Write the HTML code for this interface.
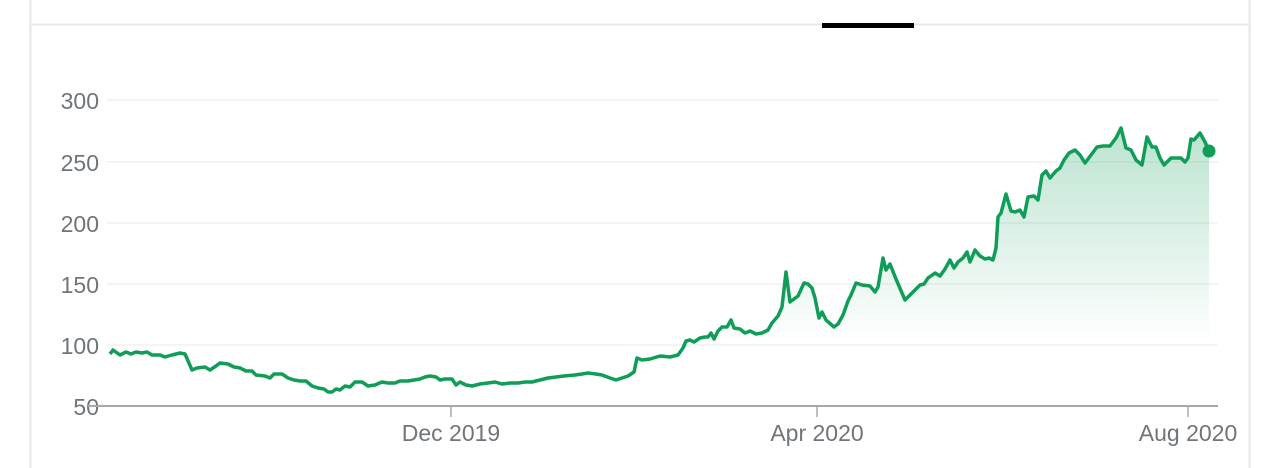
<!DOCTYPE html>
<html><head><meta charset="utf-8"><style>
html,body{margin:0;padding:0;background:#fff;width:1280px;height:468px;overflow:hidden}
svg{display:block}
text{font-family:"Liberation Sans",Arial,sans-serif;fill:#70757a;font-size:23px}
</style></head><body>
<svg width="1280" height="468" viewBox="0 0 1280 468">
<defs>
<linearGradient id="fill" x1="0" y1="130" x2="0" y2="345" gradientUnits="userSpaceOnUse">
<stop offset="0" stop-color="#0f9d58" stop-opacity="0.28"/>
<stop offset="1" stop-color="#0f9d58" stop-opacity="0"/>
</linearGradient></defs>
<line x1="30.5" y1="0" x2="30.5" y2="468" stroke="#e6e6e6" stroke-width="2"/>
<line x1="1249.5" y1="0" x2="1249.5" y2="468" stroke="#e6e6e6" stroke-width="2"/>
<line x1="30" y1="24.5" x2="1250" y2="24.5" stroke="#e8e8e8" stroke-width="2"/>
<rect x="822" y="23" width="92" height="5" fill="#000"/>
<g stroke="#f1f1f1" stroke-width="1.5">
<line x1="107" y1="100" x2="1218" y2="100"/><line x1="107" y1="162" x2="1218" y2="162"/>
<line x1="107" y1="223" x2="1218" y2="223"/><line x1="107" y1="284" x2="1218" y2="284"/>
<line x1="107" y1="345" x2="1218" y2="345"/></g>
<g text-anchor="end"><text x="99" y="109">300</text><text x="99" y="171">250</text><text x="99" y="232">200</text><text x="99" y="293">150</text><text x="99" y="354">100</text><text x="99" y="415">50</text></g>
<line x1="88" y1="406" x2="1218" y2="406" stroke="#a8a8a8" stroke-width="2"/>
<g stroke="#a8a8a8" stroke-width="1.5"><line x1="451" y1="406" x2="451" y2="417"/><line x1="817" y1="406" x2="817" y2="417"/><line x1="1188" y1="406" x2="1188" y2="417"/></g>
<g text-anchor="middle" style="font-size:24px"><text x="451" y="441">Dec 2019</text><text x="817" y="441">Apr 2020</text><text x="1188" y="441">Aug 2020</text></g>
<polygon fill="url(#fill)" points="110,406 110,354 113,350 120,355 126,352 131,354 136,352 142,353 147,352 152,355 160,355 165,357 172,355 180,353 185,354 192,370 197,368 205,367 210,370 216,366 220,363 228,364 234,367 240,368 246,371 252,371 256,375 265,376 270,378 274,374 282,374 288,378 294,380 300,381 306,381 312,386 318,388 324,389 328,392 332,392 336,389 340,390 345,386 350,387 355,382 362,382 368,386 375,385 382,382 388,383 395,383 400,381 408,381 414,380 420,379 425,377 430,376 436,377 440,380 445,379 452,379 456,385 460,382 466,385 472,386 480,384 488,383 495,382 502,384 510,383 518,383 525,382 532,382 540,380 548,378 556,377 564,376 575,375 582,374 588,373 596,374 602,375 610,378 616,380 622,378 628,376 634,372 637,358 642,360 650,359 660,356 670,357 678,355 683,348 686,341 690,340 694,342 700,338 705,337 708,337 711,333 714,339 718,331 722,327 727,327 731,320 734,328 740,329 745,333 750,331 756,334 762,333 768,330 772,323 778,316 782,307 786,272 790,302 798,296 804,283 808,284 812,288 815,298 819,318 822,312 826,320 834,327 838,324 843,315 848,301 851,295 856,283 862,285 870,286 875,292 878,287 883,258 886,270 890,264 896,279 905,300 910,295 915,290 920,285 924,284 928,278 935,273 940,276 945,269 950,260 954,268 958,262 963,258 967,252 970,262 975,250 980,256 985,259 989,258 993,260 996,248 998,217 1001,213 1006,194 1011,211 1015,212 1020,210 1024,217 1028,197 1034,196 1038,200 1042,175 1046,171 1050,178 1056,171 1060,168 1064,160 1069,153 1075,150 1080,155 1085,163 1091,155 1097,147 1103,146 1110,146 1116,138 1121,128 1126,148 1131,150 1136,160 1142,165 1147,137 1152,147 1156,147 1160,158 1164,165 1171,158 1181,158 1185,162 1188,158 1191,139 1194,140 1200,133 1205,142 1209,151 1209,406"/>
<polyline fill="none" stroke="#0f9d58" stroke-width="3.5" stroke-linejoin="round" points="110,354 113,350 120,355 126,352 131,354 136,352 142,353 147,352 152,355 160,355 165,357 172,355 180,353 185,354 192,370 197,368 205,367 210,370 216,366 220,363 228,364 234,367 240,368 246,371 252,371 256,375 265,376 270,378 274,374 282,374 288,378 294,380 300,381 306,381 312,386 318,388 324,389 328,392 332,392 336,389 340,390 345,386 350,387 355,382 362,382 368,386 375,385 382,382 388,383 395,383 400,381 408,381 414,380 420,379 425,377 430,376 436,377 440,380 445,379 452,379 456,385 460,382 466,385 472,386 480,384 488,383 495,382 502,384 510,383 518,383 525,382 532,382 540,380 548,378 556,377 564,376 575,375 582,374 588,373 596,374 602,375 610,378 616,380 622,378 628,376 634,372 637,358 642,360 650,359 660,356 670,357 678,355 683,348 686,341 690,340 694,342 700,338 705,337 708,337 711,333 714,339 718,331 722,327 727,327 731,320 734,328 740,329 745,333 750,331 756,334 762,333 768,330 772,323 778,316 782,307 786,272 790,302 798,296 804,283 808,284 812,288 815,298 819,318 822,312 826,320 834,327 838,324 843,315 848,301 851,295 856,283 862,285 870,286 875,292 878,287 883,258 886,270 890,264 896,279 905,300 910,295 915,290 920,285 924,284 928,278 935,273 940,276 945,269 950,260 954,268 958,262 963,258 967,252 970,262 975,250 980,256 985,259 989,258 993,260 996,248 998,217 1001,213 1006,194 1011,211 1015,212 1020,210 1024,217 1028,197 1034,196 1038,200 1042,175 1046,171 1050,178 1056,171 1060,168 1064,160 1069,153 1075,150 1080,155 1085,163 1091,155 1097,147 1103,146 1110,146 1116,138 1121,128 1126,148 1131,150 1136,160 1142,165 1147,137 1152,147 1156,147 1160,158 1164,165 1171,158 1181,158 1185,162 1188,158 1191,139 1194,140 1200,133 1205,142 1209,151"/>
<circle cx="1209" cy="151" r="6.5" fill="#0f9d58"/>
</svg>
</body></html>
